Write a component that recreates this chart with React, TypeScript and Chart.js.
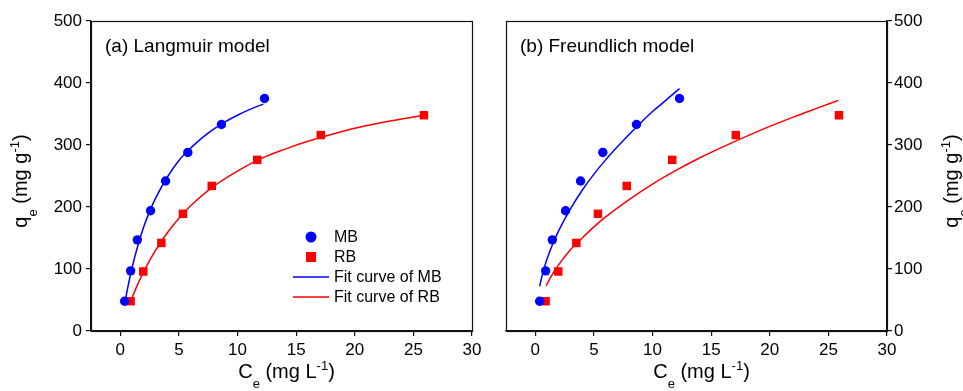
import React, { useEffect, useRef } from 'react';
import { Chart, registerables } from 'chart.js';

Chart.register(...registerables);

const FONT = '"Liberation Sans", Arial, sans-serif';
const W = 963;
const H = 391;

// ---- data ----
const xTicks = [0, 5, 10, 15, 20, 25, 30];
const yTicks = [0, 100, 200, 300, 400, 500];

const mbCe = [0.37, 0.88, 1.45, 2.58, 3.86, 5.76, 8.63, 12.3];
const mbQe = [48, 97, 147, 194, 242, 288, 333, 375];
const rbCe = [0.88, 1.96, 3.5, 5.34, 7.8, 11.68, 17.1, 25.9];
const rbQe = [48, 96, 142, 189, 234, 276, 316, 348];

// fit curves
const langMbX = [0.4, 0.7, 1, 1.5, 2, 2.5, 3, 4, 5, 6, 7, 8, 9, 10, 11, 12.2];
const langMbY = [47, 76, 102, 138, 168, 193, 214, 248, 275, 295, 312, 326, 338, 348, 357, 366];
const langRbX = [0.88, 1.5, 2, 3, 4, 5, 6, 8, 10, 12, 14, 16, 18, 20, 22, 24, 25.9];
const langRbY = [48, 76, 96, 130, 158, 182, 202, 234, 258, 278, 293, 306, 317, 327, 335, 342, 348];
const freuMbX = [0.37, 0.5, 0.75, 1, 1.5, 2, 3, 4, 5, 6, 7, 8, 9, 10, 11, 12.3];
const freuMbY = [72, 83, 101, 116, 141, 162, 197, 227, 253, 276, 297, 317, 336, 354, 370, 391];
const freuRbX = [0.91, 1.5, 2, 3, 4, 5, 6, 8, 10, 12, 14, 16, 18, 20, 22, 24, 25.86];
const freuRbY = [73, 93, 107, 131, 150, 168, 184, 212, 237, 259, 279, 297, 314, 330, 345, 359, 372];

const panelTitles = ['(a) Langmuir model', '(b) Freundlich model'];
const seriesLabels = ['MB', 'RB', 'Fit curve of MB', 'Fit curve of RB'];

type Seg = { t: string; k: 'n' | 'sub' | 'sup' };
const xTitle: Seg[] = [
  { t: 'C', k: 'n' },
  { t: 'e', k: 'sub' },
  { t: ' (mg L', k: 'n' },
  { t: '-1', k: 'sup' },
  { t: ')', k: 'n' },
];
const yTitle: Seg[] = [
  { t: 'q', k: 'n' },
  { t: 'e', k: 'sub' },
  { t: ' (mg g', k: 'n' },
  { t: '-1', k: 'sup' },
  { t: ')', k: 'n' },
];

const BLUE = '#0000ff';
const RED = '#ff0000';
const AXIS = '#111';

const zip = (xs: number[], ys: number[]) => xs.map((x, i) => ({ x, y: ys[i] }));

function segFont(k: string) {
  return k === 'n' ? `20px ${FONT}` : `13px ${FONT}`;
}
function richWidth(ctx: CanvasRenderingContext2D, segs: Seg[]) {
  let w = 0;
  for (const s of segs) {
    ctx.font = segFont(s.k);
    w += ctx.measureText(s.t).width;
  }
  return w;
}
function drawRich(ctx: CanvasRenderingContext2D, segs: Seg[], x: number, y: number) {
  let cx = x;
  ctx.textAlign = 'left';
  ctx.textBaseline = 'alphabetic';
  for (const s of segs) {
    ctx.font = segFont(s.k);
    const dy = s.k === 'sub' ? 10 : s.k === 'sup' ? -8 : 0;
    ctx.fillText(s.t, cx, y + dy);
    cx += ctx.measureText(s.t).width;
  }
}

function makeConfig(side: 'left' | 'right') {
  const isLeft = side === 'left';
  const fitMb = isLeft ? zip(langMbX, langMbY) : zip(freuMbX, freuMbY);
  const fitRb = isLeft ? zip(langRbX, langRbY) : zip(freuRbX, freuRbY);

  const decor = {
    id: 'decor' + side,
    afterDraw(chart: any) {
      const ctx: CanvasRenderingContext2D = chart.ctx;
      const a = chart.chartArea;
      ctx.save();
      // frame
      ctx.strokeStyle = AXIS;
      ctx.lineWidth = 1.2;
      ctx.strokeRect(Math.round(a.left) + 0.5, Math.round(a.top) + 0.5, Math.round(a.right - a.left), Math.round(a.bottom - a.top));
      ctx.fillStyle = '#000';
      // panel title
      ctx.font = `19px ${FONT}`;
      ctx.textAlign = 'left';
      ctx.textBaseline = 'alphabetic';
      ctx.fillText(isLeft ? panelTitles[0] : panelTitles[1], a.left + 14, a.top + 31);
      // x title
      const xw = richWidth(ctx, xTitle);
      const cx = (a.left + a.right) / 2 + 5;
      drawRich(ctx, xTitle, cx - xw / 2, a.bottom + 47);
      // y title (rotated)
      const yw = richWidth(ctx, yTitle);
      const bx = isLeft ? 27 : 958;
      const cy = (a.top + a.bottom) / 2 + 5;
      ctx.save();
      ctx.translate(bx, cy);
      ctx.rotate(-Math.PI / 2);
      drawRich(ctx, yTitle, -yw / 2, 0);
      ctx.restore();
      // legend (left panel only)
      if (isLeft) {
        const lx = a.left + 202;
        const mx = a.left + 220;
        const tx = a.left + 243;
        const ys = [a.top + 216, a.top + 236, a.top + 256, a.top + 276];
        ctx.fillStyle = BLUE;
        ctx.beginPath();
        ctx.arc(mx, ys[0], 5.5, 0, Math.PI * 2);
        ctx.fill();
        ctx.fillStyle = RED;
        ctx.fillRect(mx - 5, ys[1] - 5, 10, 10);
        ctx.lineWidth = 1.5;
        ctx.strokeStyle = BLUE;
        ctx.beginPath();
        ctx.moveTo(lx, ys[2]);
        ctx.lineTo(lx + 36, ys[2]);
        ctx.stroke();
        ctx.strokeStyle = RED;
        ctx.beginPath();
        ctx.moveTo(lx, ys[3]);
        ctx.lineTo(lx + 36, ys[3]);
        ctx.stroke();
        ctx.fillStyle = '#000';
        ctx.font = `16px ${FONT}`;
        ctx.textBaseline = 'middle';
        seriesLabels.forEach((l, i) => ctx.fillText(l, tx, ys[i] + 1));
      }
      ctx.restore();
    },
  };

  return {
    type: 'scatter' as const,
    data: {
      datasets: [
        {
          label: seriesLabels[0],
          data: zip(mbCe, mbQe),
          pointStyle: 'circle',
          pointRadius: 4.7,
          backgroundColor: BLUE,
          borderColor: BLUE,
          borderWidth: 0,
          showLine: false,
        },
        {
          label: seriesLabels[1],
          data: zip(rbCe, rbQe),
          pointStyle: 'rect',
          pointRadius: 6,
          backgroundColor: RED,
          borderColor: RED,
          borderWidth: 0,
          showLine: false,
        },
        {
          label: seriesLabels[2],
          data: fitMb,
          showLine: true,
          pointRadius: 0,
          borderColor: BLUE,
          backgroundColor: BLUE,
          borderWidth: 1.5,
          tension: 0.4,
          cubicInterpolationMode: 'monotone',
        },
        {
          label: seriesLabels[3],
          data: fitRb,
          showLine: true,
          pointRadius: 0,
          borderColor: RED,
          backgroundColor: RED,
          borderWidth: 1.5,
          tension: 0.4,
          cubicInterpolationMode: 'monotone',
        },
      ],
    },
    options: {
      animation: false,
      responsive: false,
      devicePixelRatio: 1,
      layout: {
        padding: isLeft
          ? { left: 0, right: 491, top: 21, bottom: 0 }
          : { left: 506, right: 0, top: 21, bottom: 0 },
      },
      plugins: {
        legend: { display: false },
        tooltip: { enabled: false },
        title: { display: false },
      },
      scales: {
        x: {
          type: 'linear',
          min: -2.5,
          max: 30,
          afterBuildTicks: (s: any) => {
            s.ticks = xTicks.map((v) => ({ value: v }));
          },
          afterFit: (s: any) => {
            s.height = 60;
          },
          ticks: {
            font: { family: FONT, size: 17 },
            color: '#000',
            padding: 4,
            maxRotation: 0,
            autoSkip: false,
          },
          grid: { drawOnChartArea: false, tickLength: 5, color: AXIS, lineWidth: 1.2 },
          border: { color: AXIS, width: 1.2 },
        },
        y: {
          type: 'linear',
          position: isLeft ? 'left' : 'right',
          min: 0,
          max: 500,
          afterBuildTicks: (s: any) => {
            s.ticks = yTicks.map((v) => ({ value: v }));
          },
          afterFit: (s: any) => {
            s.width = isLeft ? 91 : 76;
          },
          ticks: {
            font: { family: FONT, size: 17 },
            color: '#000',
            padding: isLeft ? 4 : 2,
            autoSkip: false,
          },
          grid: { drawOnChartArea: false, tickLength: 5, color: AXIS, lineWidth: 1.2 },
          border: { color: AXIS, width: 1.2 },
        },
      },
    },
    plugins: [decor],
  };
}

function Panel({ side }: { side: 'left' | 'right' }) {
  const ref = useRef<HTMLCanvasElement | null>(null);
  useEffect(() => {
    if (!ref.current) return;
    const chart = new Chart(ref.current, makeConfig(side) as any);
    return () => chart.destroy();
  }, [side]);
  return (
    <canvas
      ref={ref}
      width={W}
      height={H}
      style={{ position: 'absolute', left: 0, top: 0, width: W, height: H }}
    />
  );
}

export default function App() {
  return (
    <div style={{ position: 'absolute', left: 0, top: 0, width: W, height: H, background: '#fff', overflow: 'hidden' }}>
      <Panel side="left" />
      <Panel side="right" />
    </div>
  );
}
